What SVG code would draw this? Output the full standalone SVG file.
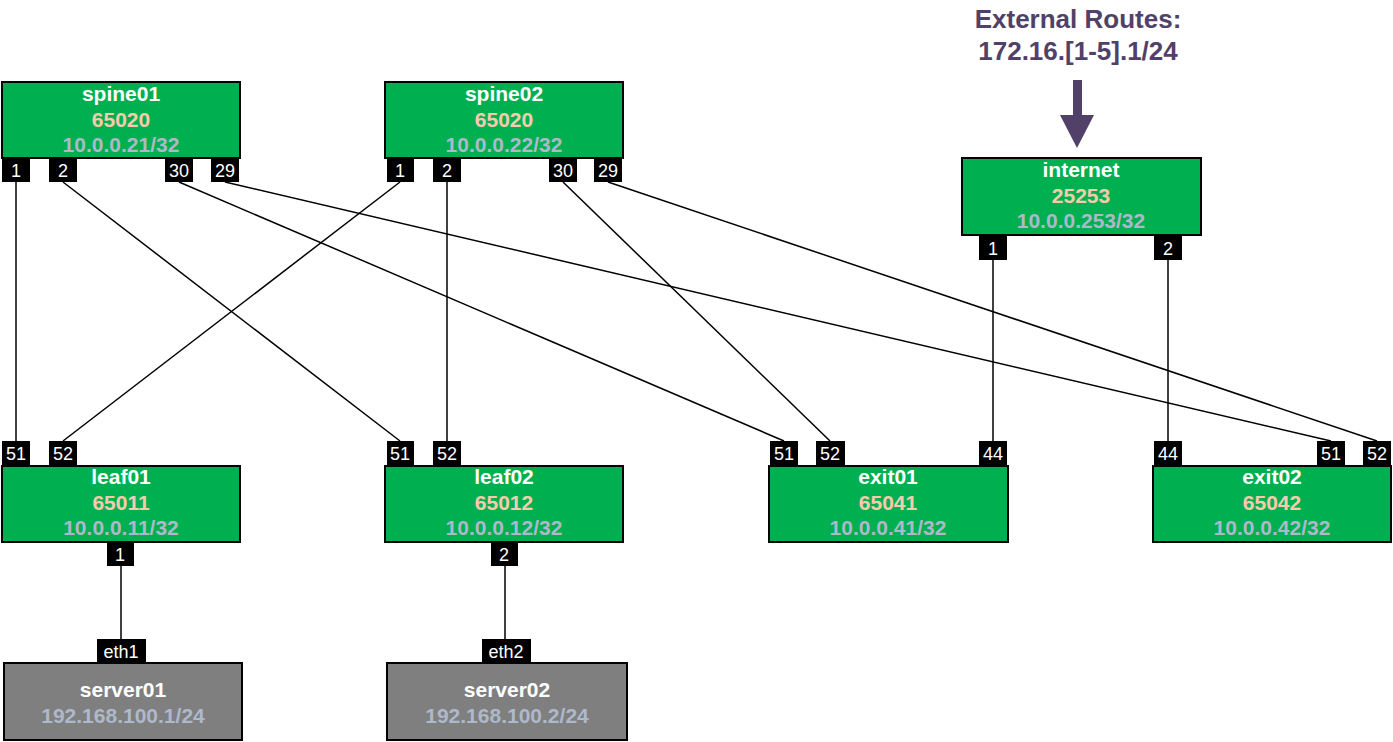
<svg xmlns="http://www.w3.org/2000/svg" width="1393" height="742" viewBox="0 0 1393 742">
<style>
.bg{fill:#ffffff}
.sw{fill:#00B050;stroke:#000;stroke-width:2}
.sv{fill:#7F7F7F;stroke:#000;stroke-width:2}
.pt{fill:#000}
.pl{font-family:"Liberation Sans",Arial,sans-serif;font-size:18px;fill:#fff;text-anchor:middle}
.nm{font-family:"Liberation Sans",Arial,sans-serif;font-size:21px;font-weight:bold;fill:#fff;text-anchor:middle}
.asn{font-family:"Liberation Sans",Arial,sans-serif;font-size:21px;font-weight:bold;fill:#F8CBAD;text-anchor:middle}
.ip{font-family:"Liberation Sans",Arial,sans-serif;font-size:21px;font-weight:bold;fill:#ADB9CA;text-anchor:middle}
.ttl{font-family:"Liberation Sans",Arial,sans-serif;font-size:26px;font-weight:bold;fill:#514169;text-anchor:middle}
.ln{stroke:#000;stroke-width:1.5;fill:none}
</style>
<rect class="bg" x="0" y="0" width="1393" height="742"/>
<g id="connectors">
<line class="ln" x1="16" y1="182" x2="16" y2="441"/>
<line class="ln" x1="63" y1="182" x2="400" y2="441"/>
<line class="ln" x1="179" y1="182" x2="784" y2="441"/>
<line class="ln" x1="225" y1="182" x2="1331" y2="441"/>
<line class="ln" x1="400" y1="182" x2="63" y2="441"/>
<line class="ln" x1="447" y1="182" x2="447" y2="441"/>
<line class="ln" x1="563" y1="182" x2="830" y2="441"/>
<line class="ln" x1="608" y1="182" x2="1377" y2="441"/>
<line class="ln" x1="993" y1="260" x2="993" y2="441"/>
<line class="ln" x1="1168" y1="260" x2="1168" y2="441"/>
<line class="ln" x1="121" y1="566" x2="121" y2="639"/>
<line class="ln" x1="505" y1="566" x2="505" y2="639"/>
</g>
<g id="external-routes">
<text class="ttl" x="1078" y="28">External Routes:</text>
<text class="ttl" x="1078" y="60">172.16.[1-5].1/24</text>
<rect x="1073" y="80" width="9" height="36" fill="#514169"/>
<polygon points="1060,115 1094,115 1077,148" fill="#514169"/>
</g>
<g id="spine01">
<rect class="sw" x="2" y="82" width="238" height="76"/>
<text class="nm" x="121" y="101">spine01</text>
<text class="asn" x="121" y="127">65020</text>
<text class="ip" x="121" y="152">10.0.0.21/32</text>
<rect class="pt" x="2" y="158" width="28" height="24"/><text class="pl" x="16" y="177">1</text>
<rect class="pt" x="49" y="158" width="28" height="24"/><text class="pl" x="63" y="177">2</text>
<rect class="pt" x="165" y="158" width="28" height="24"/><text class="pl" x="179" y="177">30</text>
<rect class="pt" x="211" y="158" width="28" height="24"/><text class="pl" x="225" y="177">29</text>
</g>
<g id="spine02">
<rect class="sw" x="385" y="82" width="238" height="76"/>
<text class="nm" x="504" y="101">spine02</text>
<text class="asn" x="504" y="127">65020</text>
<text class="ip" x="504" y="152">10.0.0.22/32</text>
<rect class="pt" x="387" y="158" width="27" height="24"/><text class="pl" x="400" y="177">1</text>
<rect class="pt" x="433" y="158" width="28" height="24"/><text class="pl" x="447" y="177">2</text>
<rect class="pt" x="549" y="158" width="28" height="24"/><text class="pl" x="563" y="177">30</text>
<rect class="pt" x="594" y="158" width="28" height="24"/><text class="pl" x="608" y="177">29</text>
</g>
<g id="internet">
<rect class="sw" x="962" y="158" width="239" height="77"/>
<text class="nm" x="1081" y="177">internet</text>
<text class="asn" x="1081" y="203">25253</text>
<text class="ip" x="1081" y="228">10.0.0.253/32</text>
<rect class="pt" x="979" y="235" width="28" height="25"/><text class="pl" x="993" y="255">1</text>
<rect class="pt" x="1154" y="235" width="28" height="25"/><text class="pl" x="1168" y="255">2</text>
</g>
<g id="leaf01">
<rect class="sw" x="2" y="466" width="238" height="76"/>
<text class="nm" x="121" y="484">leaf01</text>
<text class="asn" x="121" y="510">65011</text>
<text class="ip" x="121" y="535">10.0.0.11/32</text>
<rect class="pt" x="2" y="441" width="28" height="25"/><text class="pl" x="16" y="460">51</text>
<rect class="pt" x="49" y="441" width="28" height="25"/><text class="pl" x="63" y="460">52</text>
<rect class="pt" x="107" y="542" width="27" height="24"/><text class="pl" x="120" y="561">1</text>
</g>
<g id="leaf02">
<rect class="sw" x="385" y="466" width="238" height="76"/>
<text class="nm" x="504" y="484">leaf02</text>
<text class="asn" x="504" y="510">65012</text>
<text class="ip" x="504" y="535">10.0.0.12/32</text>
<rect class="pt" x="387" y="441" width="27" height="25"/><text class="pl" x="400" y="460">51</text>
<rect class="pt" x="433" y="441" width="28" height="25"/><text class="pl" x="447" y="460">52</text>
<rect class="pt" x="491" y="542" width="27" height="24"/><text class="pl" x="504" y="561">2</text>
</g>
<g id="exit01">
<rect class="sw" x="769" y="466" width="239" height="76"/>
<text class="nm" x="888" y="484">exit01</text>
<text class="asn" x="888" y="510">65041</text>
<text class="ip" x="888" y="535">10.0.0.41/32</text>
<rect class="pt" x="770" y="441" width="28" height="25"/><text class="pl" x="784" y="460">51</text>
<rect class="pt" x="816" y="441" width="29" height="25"/><text class="pl" x="830" y="460">52</text>
<rect class="pt" x="979" y="441" width="28" height="25"/><text class="pl" x="993" y="460">44</text>
</g>
<g id="exit02">
<rect class="sw" x="1153" y="466" width="238" height="76"/>
<text class="nm" x="1272" y="484">exit02</text>
<text class="asn" x="1272" y="510">65042</text>
<text class="ip" x="1272" y="535">10.0.0.42/32</text>
<rect class="pt" x="1154" y="441" width="28" height="25"/><text class="pl" x="1168" y="460">44</text>
<rect class="pt" x="1317" y="441" width="28" height="25"/><text class="pl" x="1331" y="460">51</text>
<rect class="pt" x="1363" y="441" width="28" height="25"/><text class="pl" x="1377" y="460">52</text>
</g>
<g id="server01">
<rect class="sv" x="4" y="663" width="238" height="77"/>
<text class="nm" x="123" y="697">server01</text>
<text class="ip" x="123" y="723">192.168.100.1/24</text>
<rect class="pt" x="97" y="639" width="49" height="24"/><text class="pl" x="121" y="658">eth1</text>
</g>
<g id="server02">
<rect class="sv" x="387" y="663" width="240" height="77"/>
<text class="nm" x="507" y="697">server02</text>
<text class="ip" x="507" y="723">192.168.100.2/24</text>
<rect class="pt" x="482" y="639" width="49" height="24"/><text class="pl" x="506" y="658">eth2</text>
</g>
</svg>
